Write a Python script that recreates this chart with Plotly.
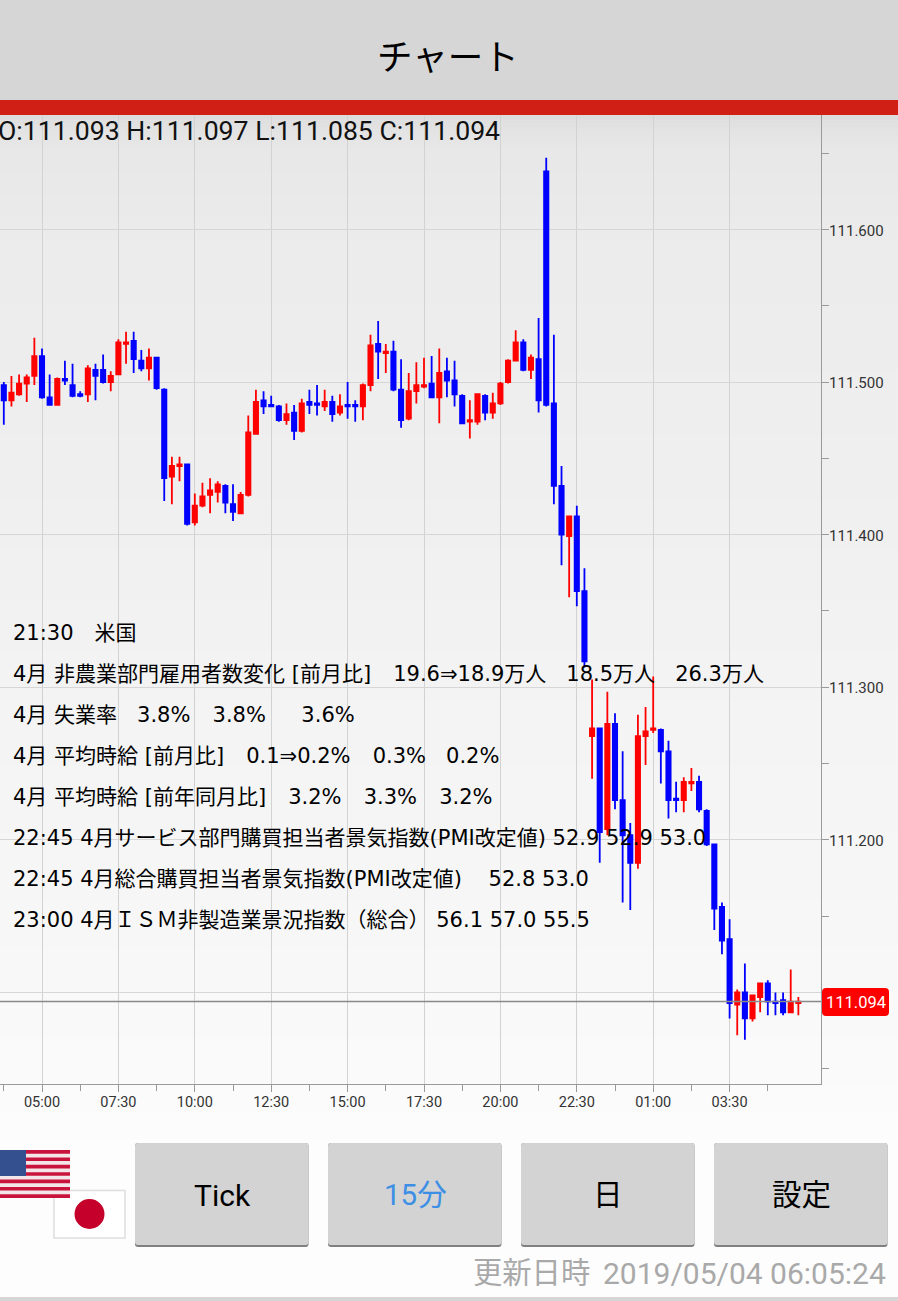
import plotly.graph_objects as go

# --- data (USD/JPY 15-minute bars) ---
opens = [111.498,111.488,111.492,111.499,111.504,111.517,111.490,111.485,111.502,111.498,111.492,111.492,111.508,111.508,111.500,111.505,111.525,111.527,111.514,111.509,
111.516,111.495,111.438,111.445,111.446,111.408,111.419,111.426,111.428,111.432,111.420,111.414,111.426,111.466,111.488,111.485,111.484,111.475,111.480,111.468,
111.487,111.486,111.484,111.487,111.480,111.485,111.485,111.484,111.498,111.525,111.519,111.520,111.495,111.476,111.494,111.497,111.499,111.490,111.507,111.501,
111.491,111.474,111.474,111.491,111.480,111.486,111.500,111.514,111.526,111.508,111.515,111.638,111.486,111.432,111.399,111.412,111.363,111.268,111.273,111.207,
111.276,111.226,111.203,111.185,111.268,111.272,111.272,111.258,111.227,111.226,111.237,111.238,111.219,111.197,111.156,111.135,111.092,111.100,111.083,111.097,
111.106,111.094,111.095,111.087,111.093]
highs = [111.500,111.504,111.505,111.505,111.529,111.522,111.505,111.503,111.514,111.512,111.494,111.511,111.512,111.518,111.507,111.528,111.533,111.533,111.521,111.522,
111.516,111.496,111.451,111.451,111.446,111.427,111.434,111.437,111.435,111.433,111.433,111.428,111.478,111.495,111.494,111.491,111.485,111.486,111.485,111.489,
111.495,111.498,111.495,111.491,111.492,111.500,111.488,111.499,111.531,111.540,111.525,111.527,111.515,111.506,111.513,111.516,111.517,111.522,111.516,111.514,
111.492,111.488,111.492,111.492,111.493,111.500,111.515,111.534,111.528,111.518,111.542,111.647,111.531,111.445,111.412,111.419,111.378,111.305,111.273,111.297,
111.283,111.258,111.211,111.282,111.287,111.307,111.273,111.265,111.238,111.241,111.247,111.242,111.220,111.197,111.159,111.148,111.102,111.119,111.098,111.106,
111.108,111.100,111.100,111.115,111.097]
lows = [111.472,111.484,111.491,111.487,111.498,111.489,111.485,111.485,111.498,111.490,111.490,111.487,111.488,111.499,111.494,111.505,111.512,111.506,111.507,111.501,
111.495,111.422,111.420,111.435,111.406,111.406,111.418,111.414,111.421,111.414,111.409,111.414,111.425,111.466,111.479,111.484,111.474,111.472,111.462,111.467,
111.479,111.478,111.481,111.474,111.478,111.476,111.474,111.475,111.494,111.502,111.506,111.494,111.470,111.475,111.486,111.496,111.490,111.473,111.490,111.484,
111.473,111.463,111.472,111.475,111.476,111.485,111.499,111.514,111.507,111.502,111.480,111.484,111.420,111.380,111.359,111.353,111.313,111.240,111.185,111.203,
111.220,111.159,111.154,111.181,111.249,111.270,111.237,111.214,111.218,111.218,111.232,111.218,111.196,111.141,111.125,111.083,111.072,111.069,111.081,111.087,
111.085,111.085,111.085,111.087,111.085]
closes = [111.488,111.493,111.499,111.503,111.517,111.490,111.485,111.502,111.501,111.491,111.491,111.509,111.504,111.500,111.504,111.526,111.526,111.515,111.509,111.516,
111.496,111.437,111.445,111.446,111.407,111.419,111.425,111.429,111.433,111.421,111.415,111.426,111.467,111.487,111.484,111.484,111.475,111.479,111.468,111.486,
111.485,111.485,111.487,111.479,111.484,111.484,111.484,111.498,111.524,111.520,111.520,111.495,111.475,111.494,111.498,111.498,111.490,111.506,111.501,111.492,
111.473,111.475,111.492,111.480,111.486,111.499,111.514,111.526,111.508,111.516,111.488,111.485,111.432,111.400,111.412,111.363,111.317,111.273,111.205,111.276,
111.226,111.203,111.185,111.268,111.271,111.273,111.258,111.226,111.226,111.238,111.238,111.220,111.197,111.155,111.134,111.093,111.100,111.083,111.098,111.106,
111.094,111.093,111.087,111.094,111.094]
first_bar = -5   # bar index of the first candle; bar 0 is the 05:00 candle
time_labels = ["05:00","07:30","10:00","12:30","15:00","17:30","20:00","22:30","01:00","03:30"]
price_ticks = [111.60,111.50,111.40,111.30,111.20,111.10]
price_labels = ["111.600","111.500","111.400","111.300","111.200",""]
news_lines = [
    "21:30\u3000米国",
    "4月 非農業部門雇用者数変化 [前月比]   \u200a19.6⇒18.9万人   18.5万人   26.3万人",
    "4月 失業率   3.8%   \u200a3.8%     \u200a3.6%",
    "4月 平均時給 [前月比]   \u200a0.1⇒0.2%   \u200a0.3%   0.2%",
    "4月 平均時給 [前年同月比]   \u200a3.2%   \u200a3.3%   \u200a3.2%",
    "22:45 4月サービス部門購買担当者景気指数(PMI改定値) 52.9 52.9 53.0",
    "22:45 4月総合購買担当者景気指数(PMI改定値)    52.8 53.0",
    "23:00 4月ＩＳＭ非製造業景況指数（総合） 56.1 57.0 55.5",
]
buttons = [("Tick", 135, "#000000"), ("15分", 328, "#3d8fe6"), ("日", 521, "#000000"), ("設定", 714, "#000000")]

bar_index = list(range(first_bar, first_bar + len(opens)))
W, H = 898, 1301
L, R, T, B = 0, 821, 115, 1084      # plot area in page pixels
px = lambda x: (x - L) / (R - L)
py = lambda y: (B - y) / (B - T)
SANS = "Roboto, 'Noto Sans CJK JP', sans-serif"
NEWS = "'DejaVu Sans', 'Noto Sans CJK JP', sans-serif"

shapes, annos = [], []

def rect(x0, y0, x1, y1, fill, layer="above", line=None):
    shapes.append(dict(type="rect", xref="paper", yref="paper", x0=px(x0), x1=px(x1), y0=py(y1), y1=py(y0),
                       fillcolor=fill, layer=layer, line=line or dict(width=0)))

def rrect(x0, y0, x1, y1, r, fill, layer="above"):
    a, b, c, d = px(x0), px(x1), py(y0), py(y1)
    rx, ry = r / (R - L), r / (B - T)
    path = (f"M{a+rx},{c} L{b-rx},{c} Q{b},{c} {b},{c-ry} L{b},{d+ry} Q{b},{d} {b-rx},{d} "
            f"L{a+rx},{d} Q{a},{d} {a},{d+ry} L{a},{c-ry} Q{a},{c} {a+rx},{c} Z")
    shapes.append(dict(type="path", xref="paper", yref="paper", path=path, fillcolor=fill, layer=layer, line=dict(width=0)))

def text(x, y, s, size, color="#000000", family=SANS, anchor="left"):
    annos.append(dict(xref="paper", yref="paper", x=px(x), y=py(y), text=s, showarrow=False, xanchor=anchor,
                      yanchor="middle", borderpad=0, borderwidth=0, align=anchor,
                      font=dict(size=size, color=color, family=family)))

# page background: soft vertical gradient, one strip per grey level
stops = [(115, 220), (122, 224), (132, 228), (150, 232), (240, 236), (500, 240), (700, 244), (900, 247), (1084, 251), (1140, 253), (1301, 254)]
for (y0, c0), (y1, c1) in zip(stops, stops[1:]):
    n = max(1, c1 - c0)
    for i in range(n):
        g = c0 + i
        rect(0, y0 + (y1 - y0) * i / n, W, y0 + (y1 - y0) * (i + 1) / n + 0.5, f"rgb({g},{g},{g})", layer="below")

# header
rect(0, 0, W, 100, "#d6d6d6", layer="below")
rect(0, 100, W, 115, "#d01f14", layer="below")
rect(0, 1297, W, 1301, "#d6d6d6", layer="below")
text(447.5, 55, "チャート", 35.5, family="'Noto Sans CJK JP', sans-serif", anchor="center")

# OHLC read-out
text(-2, 131, f"O:{opens[-1]:.3f} H:{highs[-1]:.3f} L:{lows[-1]:.3f} C:{closes[-1]:.3f}", 26.65, color="#111111")

# economic calendar overlay
for i, line in enumerate(news_lines):
    text(13, 632.5 + 41 * i, line, 21, color="#000000", family=NEWS)

# last price line and tag
shapes.append(dict(type="line", xref="paper", yref="y", x0=0, x1=1, y0=closes[-1], y1=closes[-1],
                   line=dict(color="#8a8a8a", width=1.5), layer="above"))
rrect(822, 988, 889, 1016, 4, "#ff0000")
text(855.5, 1002, f"{closes[-1]:.3f}", 16.5, color="#ffffff", anchor="center")

# flags
rect(54, 1190.5, 125, 1238, "#ffffff", line=dict(color="#dedede", width=1.5))
shapes.append(dict(type="circle", xref="paper", yref="paper", x0=px(74.5), x1=px(104.5), y0=py(1229), y1=py(1199),
                   fillcolor="#c4002b", line=dict(width=0), layer="above"))
rect(0, 1150, 70, 1198, "#f4e6e8")
for s in range(0, 13, 2):
    rect(0, 1150 + s * 48 / 13, 70, 1150 + (s + 1) * 48 / 13, "#c8143c")
rect(0, 1150, 26, 1176, "#34508f")

# buttons
for label, x0, col in buttons:
    rrect(x0, 1143, x0 + 173.5, 1247, 3, "#808080", layer="below")
    rrect(x0, 1143, x0 + 173.5, 1245, 3, "#d3d3d3", layer="below")
    text(x0 + 87, 1195, label, 30 if label == "Tick" else 29.5, color=col, anchor="center",
         family="Roboto, 'Noto Sans CJK JP', sans-serif")

# update stamp
text(473, 1273, "更新日時", 29.3, color="#a9a9a9")
text(886, 1273, "2019/05/04 06:05:24", 30, color="#a9a9a9", anchor="right")

fig = go.Figure(go.Candlestick(
    x=bar_index, open=opens, high=highs, low=lows, close=closes,
    increasing=dict(line=dict(color="#ff0000", width=1.8), fillcolor="#ff0000"),
    decreasing=dict(line=dict(color="#0000ff", width=1.8), fillcolor="#0000ff"),
    whiskerwidth=0, hoverinfo="skip", showlegend=False))

fig.update_layout(
    width=W, height=H, autosize=False,
    margin=dict(l=L, r=W - R, t=T, b=H - B, pad=0, autoexpand=False),
    paper_bgcolor="#ffffff", plot_bgcolor="rgba(0,0,0,0)", showlegend=False,
    boxgap=0.2, shapes=shapes, annotations=annos,
    xaxis=dict(type="linear", range=[-42.0 / 7.64, (R - 42.0) / 7.64], rangeslider=dict(visible=False),
               tickmode="array", tickvals=[10 * i for i in range(len(time_labels))], ticktext=time_labels,
               ticks="outside", ticklen=7, tickcolor="#9a9a9a", tickwidth=1,
               showgrid=True, gridcolor="#d2d2d2", gridwidth=1, zeroline=False,
               showline=True, linecolor="#9a9a9a", linewidth=1, ticklabelstandoff=-2,
               tickfont=dict(family="Roboto, sans-serif", size=14.5, color="#333333"),
               minor=dict(tickmode="array", tickvals=[-5 + 10 * i for i in range(11)], ticks="outside", ticklen=6,
                          tickcolor="#9a9a9a", tickwidth=1, showgrid=False)),
    yaxis=dict(side="right", range=[111.0400, 111.6750], tickmode="array", tickvals=price_ticks, ticktext=price_labels,
               ticks="outside", ticklen=7, tickcolor="#9a9a9a", tickwidth=1,
               showgrid=True, gridcolor="#d6d6d6", gridwidth=1, zeroline=False,
               showline=True, linecolor="#9a9a9a", linewidth=1.2, ticklabelstandoff=-3, ticklabelshift=1,
               tickfont=dict(family="Roboto, sans-serif", size=15, color="#333333"),
               minor=dict(tickmode="array", tickvals=[111.05, 111.15, 111.25, 111.35, 111.45, 111.55, 111.65],
                          ticks="outside", ticklen=7, tickcolor="#9a9a9a", tickwidth=1, showgrid=False)),
)

fig.write_html("out.html", config={"displayModeBar": False},
               post_script="document.body.style.margin='0';")
